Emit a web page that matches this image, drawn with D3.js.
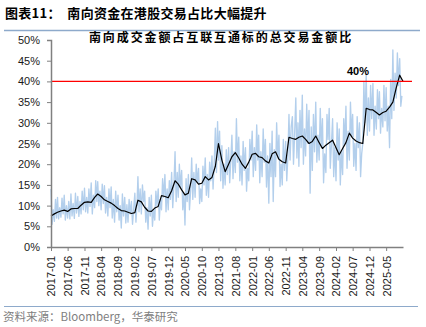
<!DOCTYPE html>
<html>
<head>
<meta charset="utf-8">
<script src="https://cdn.jsdelivr.net/npm/d3@7"></script>
<style>
  html, body { margin: 0; padding: 0; background: #fff; }
  svg { display: block; }
</style>
</head>
<body>
<svg id="chart" width="426" height="327"></svg>
<script>
// ---------------- DATA ----------------
const chartTitle = "图表11：  南向资金在港股交易占比大幅提升";
const innerTitle = "南向成交金额占互联互通标的总交易金额比";
const sourceText = "资料来源：Bloomberg，华泰研究";
const refValue = 40;
const refLabel = "40%";

const yTicks = [0, 5, 10, 15, 20, 25, 30, 35, 40, 45, 50];
const tickLabels = ["2017-01","2017-06","2017-11","2018-04","2018-09","2019-02","2019-07","2019-12",
  "2020-05","2020-10","2021-03","2021-08","2022-01","2022-06","2022-11","2023-04","2023-09",
  "2024-02","2024-07","2024-12","2025-05"];

// first month of both series, end of the x domain
const seriesStart = "2017-01";
const domainEnd = "2025-10";

// Daily share (light blue), three readings per month (days 1, 11, 21), %
const dailyShare = [
  // 2017
  14.0,5.5,9.0, 6.2,11.5,7.0, 12.0,6.8,9.5, 7.2,11.8,8.0, 12.5,6.5,10.0, 7.0,11.0,6.8,
  12.8,7.5,10.5, 6.9,13.0,8.2, 12.2,7.4,11.0, 8.0,13.5,9.0, 14.2,8.5,12.0, 8.2,14.0,9.8,
  // 2018
  15.5,8.0,12.5, 9.5,16.0,11.0, 15.8,10.0,13.5, 9.0,15.2,10.5, 14.8,8.2,12.0, 7.5,14.0,9.5,
  14.5,7.0,11.5, 6.0,13.5,8.5, 12.5,6.5,10.0, 4.6,12.8,7.5, 12.0,5.8,10.2, 6.0,11.5,8.0,
  // 2019
  11.0,5.5,9.0, 13.0,6.0,10.5, 17.0,8.5,14.0, 8.0,15.0,11.0, 13.5,6.0,9.5, 4.3,12.0,7.5,
  12.5,5.0,9.0, 6.5,13.5,10.0, 14.0,6.5,11.5, 9.0,16.5,12.0, 17.5,8.5,14.0, 9.0,16.0,11.5,
  // 2020
  18.0,9.5,14.5, 23.0,11.0,18.0, 12.0,20.0,14.5, 18.5,9.0,13.0, 5.3,16.5,11.0, 17.5,9.0,13.5,
  21.5,11.5,18.0, 12.0,20.0,15.5, 19.0,10.5,14.0, 11.0,19.5,15.0, 21.5,12.5,17.5, 12.0,20.5,16.0,
  // 2021
  22.0,14.0,20.0, 28.7,18.0,30.3, 21.0,28.0,16.0, 24.5,14.2,20.0, 15.0,23.5,17.5, 24.0,15.5,21.0,
  27.0,16.5,23.0, 18.0,31.0,20.5, 26.5,16.0,22.0, 15.0,25.5,18.5, 24.0,13.5,19.0, 16.0,26.0,21.0,
  // 2022
  28.0,17.0,24.0, 18.5,29.5,21.0, 27.0,15.5,23.0, 17.0,28.5,20.5, 26.0,14.5,22.0, 10.6,25.0,17.0,
  28.0,11.0,23.5, 17.0,30.0,21.5, 27.0,14.6,20.0, 15.0,26.0,18.5, 25.5,16.0,22.0, 32.0,21.0,29.0,
  // 2023
  31.5,20.0,27.0, 36.0,21.5,30.0, 19.5,33.0,24.0, 36.7,20.0,28.5, 22.0,34.5,25.0, 33.0,13.0,29.0,
  18.5,32.0,23.0, 35.0,20.5,27.0, 21.0,33.5,24.0, 31.0,15.5,22.5, 18.0,32.0,26.0, 33.5,19.0,24.5,
  // 2024
  31.0,17.0,24.0, 16.0,30.0,21.0, 28.5,15.0,23.0, 17.5,31.0,25.0, 34.0,19.0,28.0, 21.0,35.0,27.0,
  32.0,19.5,25.0, 18.5,31.5,24.0, 30.0,17.0,22.5, 25.0,40.0,30.0, 42.0,27.0,36.0, 28.0,39.0,31.0,
  // 2025
  39.5,27.0,34.0, 28.5,38.0,31.0, 37.5,27.5,33.5, 29.0,39.0,30.5, 38.5,28.0,34.0, 24.0,40.5,31.0,
  47.6,33.0,42.0, 36.0,46.9,39.0, 45.5,34.0,36.5
];

// Smoothed share (black), one reading per month (1st of month), %
const smoothShare = [
  // 2017
  7.5, 8.0, 8.4, 8.7, 8.9, 8.6, 9.2, 9.3, 9.3, 10.1, 10.8, 10.9,
  // 2018
  10.8, 12.0, 12.8, 12.2, 11.4, 11.0, 10.6, 10.0, 9.3, 8.8, 8.7, 8.4,
  // 2019
  8.1, 8.3, 11.3, 10.9, 9.6, 8.7, 8.6, 9.4, 9.8, 12.4, 12.2, 11.9,
  // 2020
  13.6, 16.0, 15.2, 13.8, 12.6, 13.0, 16.5, 16.2, 15.2, 15.4, 17.0, 16.2,
  // 2021
  16.8, 19.5, 25.0, 21.0, 18.2, 20.0, 21.8, 22.8, 21.5, 20.0, 19.0, 20.5,
  // 2022
  22.4, 22.6, 21.8, 21.6, 20.8, 20.3, 22.5, 23.0, 21.2, 20.6, 20.3, 26.5,
  // 2023
  26.2, 26.0, 26.5, 26.8, 26.0, 25.0, 25.5, 26.8, 25.2, 23.8, 24.6, 25.2,
  // 2024
  25.8, 24.0, 22.3, 23.8, 25.2, 27.5, 26.3, 25.6, 25.2, 25.0, 33.5, 33.2,
  // 2025
  33.1, 32.5, 31.9, 32.5, 32.8, 33.8, 35.0, 38.5, 41.5, 40.0
];

// ---------------- BUILD ----------------
const parseMonth = d3.timeParse("%Y-%m");
const start = parseMonth(seriesStart);
const dayOffsets = [0, 10, 20];

const dailyData = dailyShare.map((v, i) => {
  const m = Math.floor(i / 3), k = i % 3;
  return { date: d3.timeDay.offset(d3.timeMonth.offset(start, m), dayOffsets[k]), value: v };
});
const smoothData = smoothShare.map((v, i) => ({ date: d3.timeMonth.offset(start, i), value: v }));

const svg = d3.select("#chart");
const plotLeft = 51, plotRight = 403, plotTop = 40, plotBottom = 247;

const x = d3.scaleTime().domain([start, parseMonth(domainEnd)]).range([plotLeft, plotRight]);
const y = d3.scaleLinear().domain([0, 50]).range([plotBottom, plotTop]);

const cjk = "'Noto Sans CJK SC', 'Noto Sans', sans-serif";
const latin = "'Liberation Sans', Arial, sans-serif";

// Header
svg.append("text")
  .attr("x", 5).attr("y", 18)
  .attr("font-family", cjk).attr("font-weight", "bold")
  .attr("font-size", 13).attr("letter-spacing", 0.3)
  .attr("fill", "#000")
  .attr("xml:space", "preserve")
  .text(chartTitle);
svg.append("line")
  .attr("x1", 4).attr("x2", 420).attr("y1", 30.5).attr("y2", 30.5)
  .attr("stroke", "#8eaacb").attr("stroke-width", 1.5);

// Inner title
svg.append("text")
  .attr("x", 221).attr("y", 42)
  .attr("text-anchor", "middle")
  .attr("font-family", cjk).attr("font-weight", "bold")
  .attr("font-size", 12).attr("letter-spacing", 1.9)
  .attr("fill", "#000")
  .text(innerTitle);

// Series
const line = d3.line().x(d => x(d.date)).y(d => y(d.value));
svg.append("path").datum(dailyData)
  .attr("d", line).attr("fill", "none")
  .attr("stroke", "#b3cfec").attr("stroke-width", 1.35)
  .attr("stroke-linejoin", "round");
svg.append("path").datum(smoothData)
  .attr("d", line)
  .attr("fill", "none")
  .attr("stroke", "#000").attr("stroke-width", 1.2)
  .attr("stroke-linejoin", "round");

// Reference line
svg.append("line")
  .attr("x1", plotLeft).attr("x2", 412)
  .attr("y1", y(refValue)).attr("y2", y(refValue))
  .attr("stroke", "#ff0000").attr("stroke-width", 1.3);
svg.append("text")
  .attr("x", 347).attr("y", y(refValue) - 6)
  .attr("font-family", latin).attr("font-weight", "bold")
  .attr("font-size", 11).attr("fill", "#000")
  .text(refLabel);

// Y axis
const yAxis = svg.append("g")
  .attr("transform", `translate(${plotLeft},0)`)
  .call(d3.axisLeft(y).tickValues(yTicks).tickSize(4).tickPadding(7).tickFormat(d => d + "%"));
yAxis.select(".domain").attr("stroke", "#808080").attr("stroke-width", 1.5);
yAxis.selectAll(".tick line").attr("stroke", "#808080").attr("stroke-width", 1);
yAxis.selectAll(".tick text")
  .attr("font-family", latin).attr("font-size", 11).attr("fill", "#1a1a1a");

// X axis
const tickDates = tickLabels.map(parseMonth);
const xAxis = svg.append("g")
  .attr("transform", `translate(0,${plotBottom})`)
  .call(d3.axisBottom(x).tickValues(tickDates).tickSizeInner(4).tickSizeOuter(0)
    .tickFormat(d3.timeFormat("%Y-%m")));
xAxis.select(".domain").attr("stroke", "#808080").attr("stroke-width", 1.5);
xAxis.selectAll(".tick line").attr("stroke", "#808080").attr("stroke-width", 1);
xAxis.selectAll(".tick text")
  .attr("font-family", latin).attr("font-size", 11).attr("fill", "#1a1a1a")
  .attr("text-anchor", "end")
  .attr("transform", "translate(0,9) rotate(-90)")
  .attr("x", 0).attr("y", 0).attr("dy", "0.35em");

// Footer
svg.append("line")
  .attr("x1", 4).attr("x2", 418).attr("y1", 306.5).attr("y2", 306.5)
  .attr("stroke", "#8eaacb").attr("stroke-width", 1.2);
svg.append("text")
  .attr("x", 3).attr("y", 321)
  .attr("font-family", cjk).attr("font-size", 11.5)
  .attr("fill", "#808080")
  .text(sourceText);
</script>
</body>
</html>
